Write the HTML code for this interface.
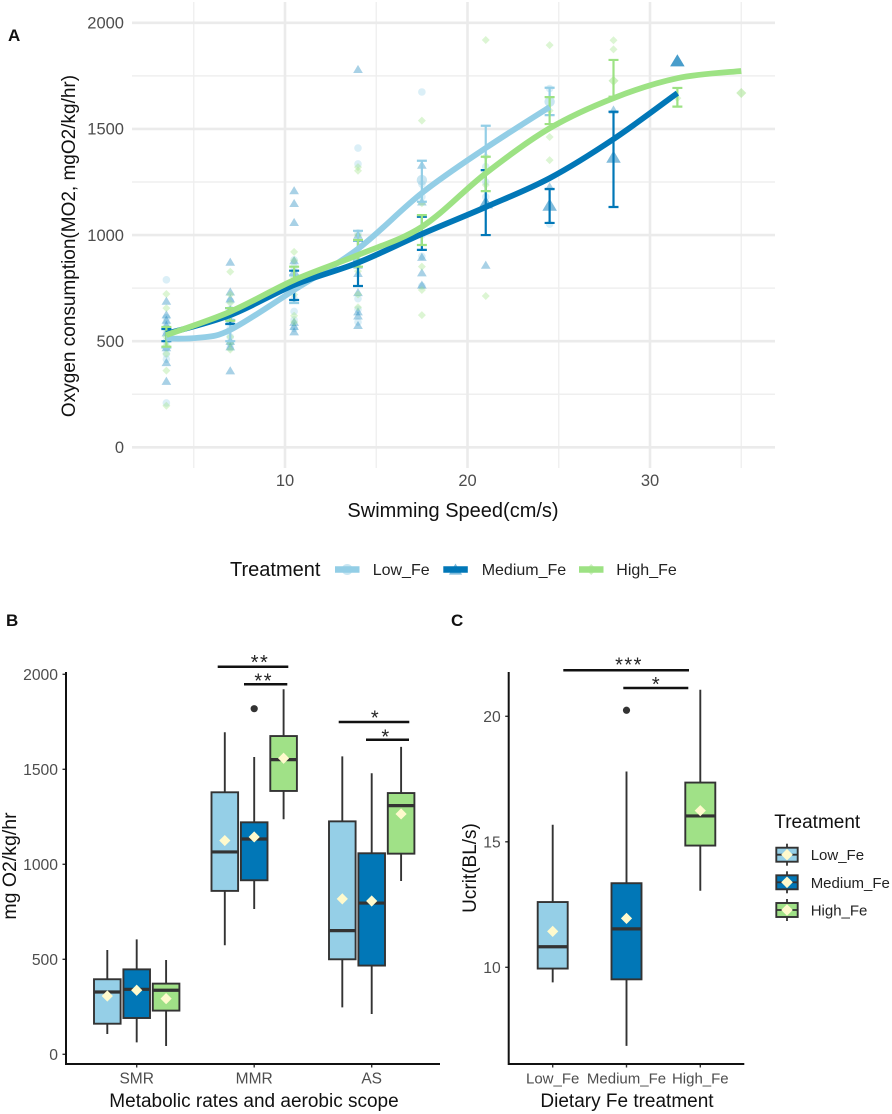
<!DOCTYPE html>
<html lang="en">
<head>
<meta charset="utf-8">
<title>Oxygen consumption and Ucrit by dietary Fe treatment</title>
<style>
html,body{margin:0;padding:0;background:#fff;width:892px;height:1114px;overflow:hidden}
svg{display:block;font-family:"Liberation Sans",Arial,sans-serif;filter:blur(0.35px)}
.axt{fill:#111}
.tick{fill:#4d4d4d}
.letter{font-weight:bold;font-size:17px;fill:#111}
</style>
</head>
<body>
<svg id="chart" xmlns="http://www.w3.org/2000/svg" width="892" height="1114" viewBox="0 0 892 1114">
  <rect width="892" height="1114" fill="#fff"/>
  <g id="a-grid"></g>
  <g id="a-points"></g>
  <g id="a-bars"></g>
  <g id="a-lines"></g>
  <g id="a-ticks"></g>
  <g id="a-legend"></g>
  <g id="b-plot"></g>
  <g id="c-plot"></g>
  <g id="c-legend"></g>

  <text class="letter" x="8" y="41">A</text>
  <text class="letter" x="6" y="626">B</text>
  <text class="letter" x="451" y="626">C</text>

  <text class="axt" x="453" y="517" font-size="20" text-anchor="middle">Swimming Speed(cm/s)</text>
  <text class="axt" transform="translate(75,246) rotate(-90)" font-size="19" text-anchor="middle">Oxygen consumption(MO2, mgO2/kg/hr)</text>
  <text class="axt" x="254" y="1107" font-size="19" text-anchor="middle">Metabolic rates and aerobic scope</text>
  <text class="axt" transform="translate(16,866) rotate(-90)" font-size="19.5" text-anchor="middle">mg O2/kg/hr</text>
  <text class="axt" x="627" y="1107" font-size="19" text-anchor="middle">Dietary Fe treatment</text>
  <text class="axt" transform="translate(476,868) rotate(-90)" font-size="19" text-anchor="middle">Ucrit(BL/s)</text>
</svg>

<script>
// ---------- Panel A data ----------
var speeds = [3.5, 7, 10.5, 14, 17.5, 21, 24.5, 28, 31.5, 35];
var xTicksA = [10, 20, 30];
var xMinorA = [5, 15, 25, 35];
var yTicksA = [0, 500, 1000, 1500, 2000];
var yMinorA = [250, 750, 1250, 1750];

var lowPoints = [
  [789, 610, 580, 540, 500, 470, 440, 415, 209],
  [690, 650, 600, 560, 520, 490, 470],
  [883, 850, 780, 700, 640, 600, 560],
  [1410, 1335, 1010, 930, 880, 700, 650, 590],
  [1674, 1240, 1180, 1000, 900, 760],
  [1322, 1250, 1180],
  [1690, 1052]
];
var medPoints = [
  [689, 625, 600, 575, 540, 470, 400, 312],
  [873, 733, 700, 650, 600, 500, 474, 361],
  [1210, 1150, 1060, 880, 830, 590, 570, 545],
  [1781, 1000, 859, 820, 730, 639, 620, 575],
  [1330, 1157, 896, 823, 765],
  [859],
  [1228],
  [1590]
];
var highPoints = [
  [722, 656, 560, 520, 480, 440, 361, 196],
  [827, 720, 680, 640, 520, 490, 460],
  [921, 880, 800, 720, 620, 590],
  [1303, 1320, 1000, 880, 830, 720, 660],
  [1539, 1150, 851, 741, 623],
  [1919, 1370, 1236, 713],
  [1895, 1586, 1462, 1353],
  [1918, 1875],
  [1645]
];
// readings shown with larger markers (repeated observations)
var lowRepeatSpeeds = [17.5, 24.5];
var lowRepeatValues = [1259, 1628];
var medRepeatSpeeds = [21, 24.5, 28, 31.5];
var medRepeatValues = [1152, 1141, 1367, 1821];
var highRepeatSpeeds = [28, 35];
var highRepeatValues = [1727, 1669];

var lowCurveSpeeds = [3.5, 5.25, 7, 10.5, 14, 17.5, 21, 24.5];
var lowCurve = [512, 516, 553, 741, 935, 1198, 1410, 1603];
var medCurveSpeeds = [3.5, 7, 10.5, 14, 17.5, 21, 24.5, 28, 31.5];
var medCurve = [535, 623, 765, 870, 1005, 1132, 1268, 1452, 1669];
var highCurveSpeeds = [3.5, 7, 10.5, 14, 17.5, 21, 24.5, 28, 31.5, 35];
var highCurve = [529, 639, 788, 906, 1039, 1291, 1503, 1645, 1739, 1773];

var lowBarUpper = [560, 600, 810, 1020, 1350, 1515, 1694];
var lowBarLower = [470, 500, 680, 880, 1157, 1306, 1565];
var medBarUpper = [557, 656, 832, 975, 1086, 1306, 1217, 1581];
var medBarLower = [500, 581, 694, 760, 930, 1000, 1057, 1132];
var highBarUpper = [567, 656, 851, 977, 1094, 1369, 1650, 1825, 1693];
var highBarLower = [474, 596, 774, 851, 953, 1207, 1523, 1652, 1605];

var treatments = ['Low_Fe', 'Medium_Fe', 'High_Fe'];

// ---------- Panel B data ----------
var metrics = ['SMR', 'MMR', 'AS'];
var yTicksB = [0, 500, 1000, 1500, 2000];
var bWhiskerHigh = [[549, 605, 496], [1695, 1565, 1921], [1568, 1479, 1618]];
var bQ3 = [[395, 447, 372], [1379, 1221, 1675], [1226, 1058, 1375]];
var bMedian = [[328, 342, 337], [1065, 1133, 1551], [651, 796, 1309]];
var bQ1 = [[161, 191, 230], [860, 916, 1386], [500, 467, 1056]];
var bWhiskerLow = [[107, 63, 44], [574, 765, 1237], [247, 212, 912]];
var bMean = [[307, 337, 293], [1125, 1144, 1558], [818, 807, 1265]];
var bOutlierMetric = [1];
var bOutlierGroup = [1];
var bOutlierValue = [1819];

// ---------- Panel C data ----------
var yTicksC = [10, 15, 20];
var cWhiskerHigh = [15.68, 17.8, 21.06];
var cQ3 = [12.6, 13.35, 17.36];
var cMedian = [10.82, 11.53, 16.03];
var cQ1 = [9.95, 9.52, 14.85];
var cWhiskerLow = [9.4, 6.87, 13.05];
var cMean = [11.43, 11.95, 16.24];
var cOutlierGroup = [1];
var cOutlierValue = [20.24];

// ---------- Helpers ----------
var NS = 'http://www.w3.org/2000/svg';
var colors = ['#93cee6', '#0177b7', '#9de284'];
var boxFill = ['#95cfe7', '#0177b7', '#a0e187'];
var ink = '#333333';
var meanFill = '#fffacd';

function mk(parent, tag, attrs, text) {
  var e = document.createElementNS(NS, tag);
  for (var k in attrs) e.setAttribute(k, attrs[k]);
  if (text !== undefined) e.textContent = text;
  parent.appendChild(e);
  return e;
}
function $(id) { return document.getElementById(id); }

// ---------- Panel A axes ----------
function ax(v) { return 285 + (v - 10) * 18.25; }
function ay(v) { return 447.3 - v * 0.21225; }

var gridA = $('a-grid');
yMinorA.forEach(function (v) {
  var l = mk(gridA, 'line', { x1: 132, x2: 775, y1: ay(v), y2: ay(v), stroke: '#efefef', 'stroke-width': 1.4 });
  
  
});
xMinorA.forEach(function (v) {
  var l = mk(gridA, 'line', { x1: ax(v), x2: ax(v), y1: 2, y2: 468, stroke: '#efefef', 'stroke-width': 1.4 });
  
  
});
yTicksA.forEach(function (v) {
  var l = mk(gridA, 'line', { x1: 132, x2: 775, y1: ay(v), y2: ay(v), stroke: '#ebebeb', 'stroke-width': 2.6 });
  
  
  var t = mk($('a-ticks'), 'text', { x: 124, y: ay(v) + 5.8, 'font-size': 16.5, 'text-anchor': 'end', 'class': 'tick' }, String(v));
  
  
});
xTicksA.forEach(function (v) {
  var l = mk(gridA, 'line', { x1: ax(v), x2: ax(v), y1: 2, y2: 468, stroke: '#ebebeb', 'stroke-width': 2.6 });
  
  
  var t = mk($('a-ticks'), 'text', { x: ax(v), y: 486, 'font-size': 16.5, 'text-anchor': 'middle', 'class': 'tick' }, String(v));
  
  
});

function marker(parent, shape, x, y, s, fill, op) {
  var m;
  if (shape === 0) {
    m = mk(parent, 'circle', { cx: x, cy: y, r: s, fill: fill, opacity: op });
  } else if (shape === 1) {
    m = mk(parent, 'polygon', { points: x + ',' + (y - s) + ' ' + (x + s * 1.1) + ',' + (y + s * 0.85) + ' ' + (x - s * 1.1) + ',' + (y + s * 0.85), fill: fill, opacity: op });
  } else {
    m = mk(parent, 'polygon', { points: x + ',' + (y - s) + ' ' + (x + s) + ',' + y + ' ' + x + ',' + (y + s) + ' ' + (x - s) + ',' + y, fill: fill, opacity: op });
  }
  return m;
}

var pointGroups = [lowPoints, medPoints, highPoints];
var pointSize = [3.8, 4.4, 4];
var pointOpacity = [0.33, 0.34, 0.36];
pointGroups.forEach(function (grp, g) {
  grp.forEach(function (vals, i) {
    vals.forEach(function (v) {
      var m = marker($('a-points'), g, ax(speeds[i]), ay(v), pointSize[g], colors[g], pointOpacity[g]);
      
      
    });
  });
});
var repSpeeds = [lowRepeatSpeeds, medRepeatSpeeds, highRepeatSpeeds];
var repValues = [lowRepeatValues, medRepeatValues, highRepeatValues];
var repSize = [5.2, 6.6, 5];
repValues.forEach(function (vals, g) {
  vals.forEach(function (v, i) {
    var s = repSpeeds[g][i];
    var m = marker($('a-points'), g, ax(s), ay(v), repSize[g], colors[g], g === 1 && s > 30 ? 0.72 : 0.5);
    
    
  });
});

var barUpper = [lowBarUpper, medBarUpper, highBarUpper];
var barLower = [lowBarLower, medBarLower, highBarLower];
barUpper.forEach(function (ups, g) {
  ups.forEach(function (u, i) {
    var x = ax(speeds[i]), lo = barLower[g][i];
    var b = mk($('a-bars'), 'path', {
      d: 'M' + (x - 5) + ' ' + ay(u) + 'H' + (x + 5) + 'M' + x + ' ' + ay(u) + 'V' + ay(lo) + 'M' + (x - 5) + ' ' + ay(lo) + 'H' + (x + 5),
      fill: 'none', stroke: colors[g], 'stroke-width': 2.2
    });
    
    
  });
});

function spline(xs, ys) {
  var pts = xs.map(function (x, i) { return [ax(x), ay(ys[i])]; });
  var d = 'M' + pts[0][0] + ' ' + pts[0][1];
  for (var i = 0; i < pts.length - 1; i++) {
    var p0 = pts[Math.max(0, i - 1)], p1 = pts[i], p2 = pts[i + 1], p3 = pts[Math.min(pts.length - 1, i + 2)];
    d += 'C' + (p1[0] + (p2[0] - p0[0]) / 6) + ' ' + (p1[1] + (p2[1] - p0[1]) / 6) + ' ' +
         (p2[0] - (p3[0] - p1[0]) / 6) + ' ' + (p2[1] - (p3[1] - p1[1]) / 6) + ' ' + p2[0] + ' ' + p2[1];
  }
  return d;
}
var curveX = [lowCurveSpeeds, medCurveSpeeds, highCurveSpeeds];
var curveY = [lowCurve, medCurve, highCurve];
curveY.forEach(function (ys, g) {
  var c = mk($('a-lines'), 'path', { d: spline(curveX[g], ys), fill: 'none', stroke: colors[g], 'stroke-width': 5.8 });
  
  
});

// ---------- Panel A legend ----------
var la = $('a-legend');
var lt = mk(la, 'text', { x: 230, y: 576, 'font-size': 20, 'class': 'axt' }, 'Treatment');


var legendKeyX = [335, 443.3, 579];
var legendLabelX = [372.7, 481.7, 616.3];
treatments.forEach(function (name, g) {
  var x = legendKeyX[g];
  var k = mk(la, 'line', { x1: x, x2: x + 24.5, y1: 569.5, y2: 569.5, stroke: colors[g], 'stroke-width': 6.5 });
  
  
  var m = marker(la, g, x + 12.2, 569.5, g === 1 ? 6 : 5.5, colors[g], 0.5);
  
  
  var t = mk(la, 'text', { x: legendLabelX[g], y: 575, 'font-size': 16, fill: '#222' }, name);
  
  
});

// ---------- Box drawing ----------
function drawBox(parent, x, w, sc, whHi, q3, med, q1, whLo, mean, fill) {
  var wh = mk(parent, 'path', { d: 'M' + x + ' ' + sc(whHi) + 'V' + sc(q3) + 'M' + x + ' ' + sc(q1) + 'V' + sc(whLo), stroke: ink, 'stroke-width': 1.9, fill: 'none' });
  
  
  var r = mk(parent, 'rect', { x: x - w / 2, y: sc(q3), width: w, height: sc(q1) - sc(q3), fill: fill, stroke: ink, 'stroke-width': 1.9 });
  
  
  var m = mk(parent, 'line', { x1: x - w / 2, x2: x + w / 2, y1: sc(med), y2: sc(med), stroke: ink, 'stroke-width': 3.2 });
  
  
  var d = marker(parent, 2, x, sc(mean), 5.6, meanFill, 1);
  
  
}
function bracket(parent, x1, x2, y, stars, sx, sy) {
  var l = mk(parent, 'line', { x1: x1, x2: x2, y1: y, y2: y, stroke: '#111', 'stroke-width': 2.5 });
  
  
  var t = mk(parent, 'text', { x: sx, y: sy, 'font-size': 20, 'letter-spacing': 1.5, 'text-anchor': 'middle', fill: '#222' }, stars);
  
  
}
function axesL(parent, x0, top, y0, x1) {
  var a = mk(parent, 'path', { d: 'M' + x0 + ' ' + top + 'V' + y0 + 'H' + x1, fill: 'none', stroke: '#111', 'stroke-width': 2 });
  
  
}
function yTick(parent, x0, y, label) {
  var k = mk(parent, 'line', { x1: x0 - 3.5, x2: x0, y1: y, y2: y, stroke: '#333', 'stroke-width': 1.4 });
  
  
  var t = mk(parent, 'text', { x: x0 - 8, y: y + 5.5, 'font-size': 15.7, 'text-anchor': 'end', 'class': 'tick' }, label);
  
  
}
function xTick(parent, x, y0, label, size) {
  var k = mk(parent, 'line', { x1: x, x2: x, y1: y0, y2: y0 + 3.5, stroke: '#333', 'stroke-width': 1.4 });
  
  
  var t = mk(parent, 'text', { x: x, y: y0 + 19.5, 'font-size': size, 'text-anchor': 'middle', 'class': 'tick' }, label);
  
  
}

// ---------- Panel B ----------
var pb = $('b-plot');
function bx(i) { return 136.7 + i * 117.5; }
function by(v) { return 1054.3 - v * 0.19; }
yTicksB.forEach(function (v) { yTick(pb, 66, by(v), String(v)); });
metrics.forEach(function (name, i) {
  xTick(pb, bx(i), 1064, name, 15.5);
  [0, 1, 2].forEach(function (g) {
    drawBox(pb, bx(i) + (g - 1) * 29.4, 26.6, by, bWhiskerHigh[i][g], bQ3[i][g], bMedian[i][g], bQ1[i][g], bWhiskerLow[i][g], bMean[i][g], boxFill[g]);
  });
});
bOutlierValue.forEach(function (v, n) {
  var o = mk(pb, 'circle', { cx: bx(bOutlierMetric[n]) + (bOutlierGroup[n] - 1) * 29.4, cy: by(v), r: 3.6, fill: ink });
  
  
});
axesL(pb, 66, 672, 1064, 440);
bracket(pb, 217.7, 288.3, 666.7, '**', 260, 669);
bracket(pb, 244, 287.3, 684.3, '**', 263.7, 687.3);
bracket(pb, 338.7, 409.3, 722, '*', 375.5, 724.3);
bracket(pb, 366, 409, 739.7, '*', 386, 743.3);

// ---------- Panel C ----------
var pc = $('c-plot');
function cx(i) { return 552.7 + i * 73.8; }
function cy(v) { return 967.3 - (v - 10) * 25.1; }
yTicksC.forEach(function (v) { yTick(pc, 508.7, cy(v), String(v)); });
treatments.forEach(function (name, i) {
  xTick(pc, cx(i), 1064, name, 15);
  drawBox(pc, cx(i), 30, cy, cWhiskerHigh[i], cQ3[i], cMedian[i], cQ1[i], cWhiskerLow[i], cMean[i], boxFill[i]);
});
cOutlierValue.forEach(function (v, n) {
  var o = mk(pc, 'circle', { cx: cx(cOutlierGroup[n]), cy: cy(v), r: 3.6, fill: ink });
  
  
});
axesL(pc, 508.7, 672, 1064, 744.3);
bracket(pc, 563.3, 689, 670.3, '***', 629, 671.7);
bracket(pc, 623.3, 688.3, 688, '*', 656.5, 691);

// ---------- Panel C legend ----------
var lc = $('c-legend');
var lct = mk(lc, 'text', { x: 774.3, y: 828, 'font-size': 19, 'class': 'axt' }, 'Treatment');


var legendRowY = [854.7, 882.3, 910];
treatments.forEach(function (name, g) {
  var y = legendRowY[g], x = 787;
  var w = mk(lc, 'line', { x1: x, x2: x, y1: y - 11, y2: y + 11, stroke: ink, 'stroke-width': 1.8 });
  
  
  var r = mk(lc, 'rect', { x: x - 10.7, y: y - 7, width: 21.4, height: 14, fill: boxFill[g], stroke: ink, 'stroke-width': 1.9 });
  
  
  var m = mk(lc, 'line', { x1: x - 10.7, x2: x + 10.7, y1: y, y2: y, stroke: ink, 'stroke-width': 1.8 });
  
  
  var d = marker(lc, 2, x, y, 5.8, meanFill, 1);
  
  
  var t = mk(lc, 'text', { x: 810.7, y: y + 5.5, 'font-size': 15, fill: '#222' }, name);
  
  
});
</script>
</body>
</html>
